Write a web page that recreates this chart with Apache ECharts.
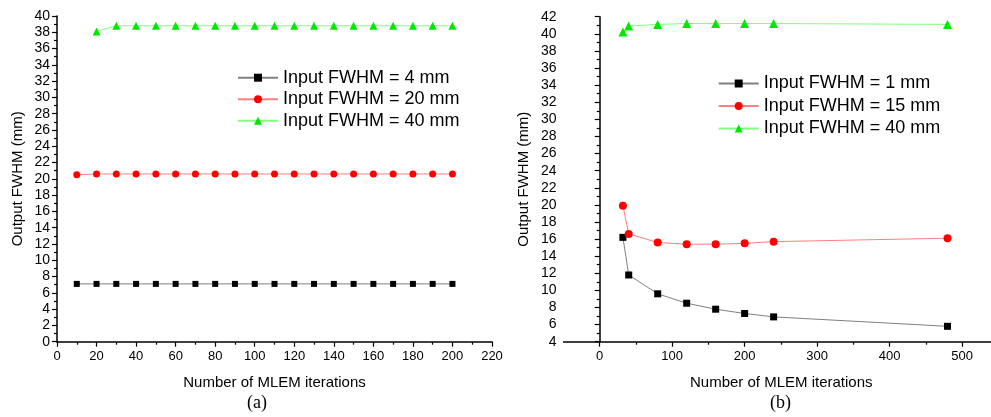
<!DOCTYPE html>
<html>
<head>
<meta charset="utf-8">
<script src="https://cdn.jsdelivr.net/npm/echarts@6/dist/echarts.min.js"></script>
<style>
html,body{margin:0;padding:0;background:#fff;}
#chart{width:991px;height:417px;}
</style>
</head>
<body>
<div id="chart"></div>
<script>
// Panel (a)
var aIter = [10,20,30,40,50,60,70,80,90,100,110,120,130,140,150,160,170,180,190,200];
var aFwhm4 = [7.1,7.1,7.1,7.1,7.1,7.1,7.1,7.1,7.1,7.1,7.1,7.1,7.1,7.1,7.1,7.1,7.1,7.1,7.1,7.1];
var aFwhm20 = [20.5,20.6,20.6,20.6,20.6,20.6,20.6,20.6,20.6,20.6,20.6,20.6,20.6,20.6,20.6,20.6,20.6,20.6,20.6,20.6];
var aIter40 = [20,30,40,50,60,70,80,90,100,110,120,130,140,150,160,170,180,190,200];
var aFwhm40 = [38.1,38.8,38.8,38.8,38.8,38.8,38.8,38.8,38.8,38.8,38.8,38.8,38.8,38.8,38.8,38.8,38.8,38.8,38.8];
// Panel (b)
var bIter = [32,40,80,120,160,200,240,480];
var bFwhm1 = [16.2,11.8,9.6,8.5,7.8,7.3,6.9,5.8];
var bFwhm15 = [19.9,16.6,15.6,15.4,15.4,15.5,15.7,16.1];
var bFwhm40 = [40.2,40.9,41.1,41.2,41.2,41.2,41.2,41.1];
var bTickMajor = [0,100,200,300,400,500];
var bTickMinor = [50,150,250,350,450];
var namesA = ['Input FWHM = 4 mm','Input FWHM = 20 mm','Input FWHM = 40 mm'];
var namesB = ['Input FWHM = 1 mm','Input FWHM = 15 mm','Input FWHM = 40 mm'];

function zip(xs, ys){ return xs.map(function(x,i){ return [x, ys[i]]; }); }

var FONT = 'Liberation Sans, Arial, sans-serif';
var axisLine = {show:true, lineStyle:{color:'#000', width:1.5}};
var axisTick = {show:true, inside:false, length:5, lineStyle:{color:'#000', width:1.2}};
var minorTick = {show:true, splitNumber:2, length:3, lineStyle:{color:'#000', width:1.2}};
var nameStyle = {fontFamily:FONT, fontSize:15, color:'#000'};

function yAx(idx, min, max){
  return {type:'value', gridIndex:idx, min:min, max:max, interval:2,
    name:'Output FWHM (mm)', nameLocation:'middle', nameGap:32, nameRotate:90,
    nameTextStyle:nameStyle,
    axisLine:axisLine, axisTick:axisTick, minorTick:minorTick, splitLine:{show:false},
    axisLabel:{fontFamily:FONT, fontSize:14, color:'#000', margin:7}};
}
function ser(name, xi, data, sym, size, mcol, lcol){
  return {type:'line', name:name, xAxisIndex:xi, yAxisIndex:xi, data:data,
    symbol:sym, symbolSize:size, showSymbol:true, animation:false,
    itemStyle:{color:mcol, borderWidth:0},
    lineStyle:{color:lcol, width:1}};
}

var chart = echarts.init(document.getElementById('chart'), null, {renderer:'canvas'});
chart.setOption({
  backgroundColor:'#fff',
  animation:false,
  grid:[
    {left:57, top:16, width:435, height:325.7},
    {left:563.5, top:16.7, width:427.5, height:325}
  ],
  xAxis:[
    {type:'value', gridIndex:0, position:'bottom', min:0, max:220, interval:20,
     name:'Number of MLEM iterations', nameLocation:'middle', nameGap:34, nameTextStyle:nameStyle,
     axisLine:axisLine, axisTick:axisTick, minorTick:minorTick, splitLine:{show:false},
     axisLabel:{fontFamily:FONT, fontSize:13, color:'#000', margin:8}},
    {type:'value', gridIndex:1, position:'bottom', min:-50, max:540,
     name:'Number of MLEM iterations', nameLocation:'middle', nameGap:34,
     nameTextStyle:{fontFamily:FONT, fontSize:15, color:'#000', padding:[0,0,0,8]},
     axisLine:axisLine,
     axisTick:{show:true, inside:false, length:5, lineStyle:{color:'#000', width:1.2}, customValues:bTickMajor},
     splitLine:{show:false},
     axisLabel:{fontFamily:FONT, fontSize:13, color:'#000', margin:8, customValues:bTickMajor}},
    {type:'value', gridIndex:1, position:'bottom', offset:0, min:-50, max:540,
     axisLine:{show:false},
     axisTick:{show:true, inside:false, length:3, lineStyle:{color:'#000', width:1.2}, customValues:bTickMinor},
     splitLine:{show:false},
     axisLabel:{show:false}}
  ],
  yAxis:[yAx(0,0,40), yAx(1,4,42)],
  legend:[
    {data:namesA.slice(), orient:'vertical', left:237, top:68.7, padding:0,
     itemWidth:40, itemHeight:10, itemGap:3.5,
     textStyle:{fontFamily:FONT, fontSize:18, color:'#000', lineHeight:18}},
    {data:namesB.slice(), orient:'vertical', left:717.7, top:74.5, padding:0,
     itemWidth:40, itemHeight:10, itemGap:4.5,
     textStyle:{fontFamily:FONT, fontSize:18, color:'#000', lineHeight:18}}
  ],
  graphic:[
    {type:'text', left:247, top:394, style:{text:'(a)', font:'18px "Liberation Serif", "Times New Roman", serif', fill:'#000'}},
    {type:'text', left:770, top:394, style:{text:'(b)', font:'18px "Liberation Serif", "Times New Roman", serif', fill:'#000'}}
  ],
  series:[
    ser(namesA[0],0,zip(aIter,aFwhm4),'rect',6,'#000','#808080'),
    ser(namesA[1],0,zip(aIter,aFwhm20),'circle',7,'#ff0000','#ff8080'),
    ser(namesA[2],0,zip(aIter40,aFwhm40),'triangle',8,'#00e800','#80ff80'),
    ser(namesB[0],1,zip(bIter,bFwhm1),'rect',7,'#000','#808080'),
    ser(namesB[1],1,zip(bIter,bFwhm15),'circle',8,'#ff0000','#ff8080'),
    ser(namesB[2],1,zip(bIter,bFwhm40),'triangle',9,'#00e800','#80ff80')
  ]
});
</script>
</body>
</html>
